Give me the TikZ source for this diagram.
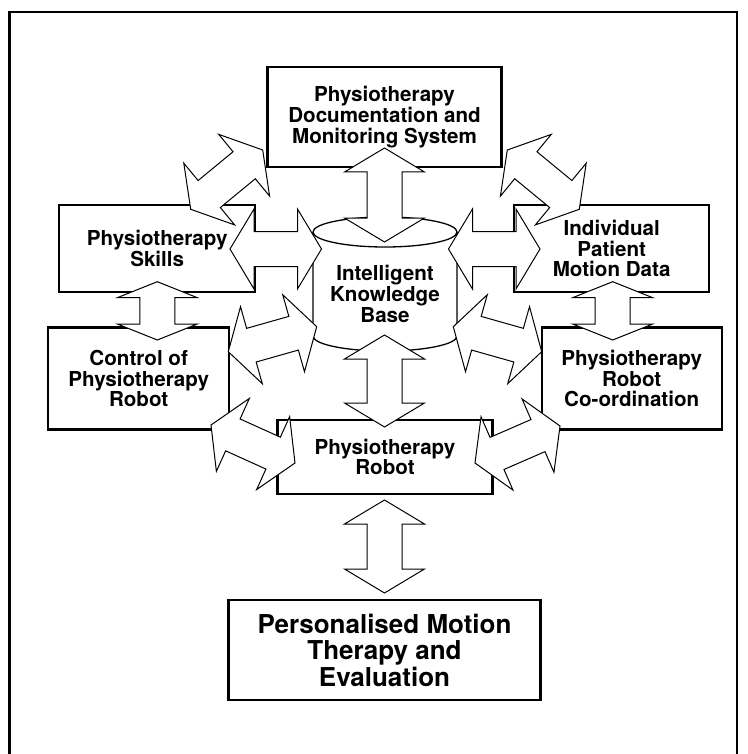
\documentclass[tikz,border=0pt]{standalone}
\usepackage{fontspec}
\setmainfont{TeX Gyre Heros}
\usetikzlibrary{calc}

% double block arrow between two points, optional head length
\newcommand{\blockarrow}[3][24]{%
    \draw[blockarr] (#2)
        -- ($(#2)!#1pt!(#3)!40pt!90:(#3)$)
        -- ($(#2)!#1pt!(#3)!17.5pt!90:(#3)$)
        -- ($(#3)!#1pt!(#2)!17.5pt!-90:(#2)$)
        -- ($(#3)!#1pt!(#2)!40pt!-90:(#2)$)
        -- (#3)
        -- ($(#3)!#1pt!(#2)!40pt!90:(#2)$)
        -- ($(#3)!#1pt!(#2)!17.5pt!90:(#2)$)
        -- ($(#2)!#1pt!(#3)!17.5pt!-90:(#3)$)
        -- ($(#2)!#1pt!(#3)!40pt!-90:(#3)$)
        -- cycle;}

\begin{document}
\begin{tikzpicture}[x=1pt, y=1pt]
        \tikzstyle{box}=[draw, line width=2.4pt, align=center, inner sep=0pt, font={\fontsize{20.6}{20.8}\selectfont\bfseries}]
        \tikzstyle{bigbox}=[box, font={\fontsize{26}{26.5}\selectfont\bfseries}]
        \tikzstyle{blockarr}=[draw, fill=white, line width=1pt]

        \useasboundingbox (0,0) rectangle (747,-754);
        \fill[white] (0,0) rectangle (747,-754);
        \draw[line width=2.6pt] (9.7,-770) -- (9.7,-12) -- (737,-12) -- (737,-770);

        \node (doc)    [box, minimum width=234, minimum height=100] at (384.5,-117) {Physiotherapy\\Documentation and\\Monitoring System};
        \node (skills) [box, minimum width=196, minimum height=87] at (157.2,-248.5) {Physiotherapy\\Skills};
        \node (motion) [box, minimum width=195, minimum height=87] at (611.7,-248.5) {Individual\\Patient\\Motion Data};
        \node (control) [box, minimum width=181, minimum height=102] at (138.7,-378.6) {Control of\\Physiotherapy\\Robot};
        \node (coord)  [box, minimum width=180, minimum height=102] at (631.7,-378.6) {Physiotherapy\\Robot\\Co-ordination};
        \node (robot)  [box, minimum width=215, minimum height=74] at (385,-457) {Physiotherapy\\Robot};
        \node (eval)   [bigbox, minimum width=312, minimum height=100] at (384.5,-650) {Personalised Motion\\Therapy and\\Evaluation};

        \draw[line width=1.3pt, fill=white] (313,-232) -- (313,-336) arc[start angle=180, end angle=360, x radius=72, y radius=15] -- (457,-232);
        \draw[line width=1.3pt] (385,-232) ellipse [x radius=72, y radius=15];

        \coordinate (docS)   at (384.5,-148);
        \coordinate (kbN)    at (384.5,-242);
        \coordinate (kbS)    at (384.5,-335);
        \coordinate (robotN) at (384.5,-427);
        \coordinate (robotS) at (384.5,-500);
        \coordinate (evalN)  at (384.5,-593);
        \coordinate (skillsS) at (157.3,-281.7);
        \coordinate (controlN) at (157.3,-340);
        \coordinate (motionS) at (612.7,-281.7);
        \coordinate (coordN) at (612.7,-340);
        \coordinate (skillsE) at (230,-249);
        \coordinate (kbW)    at (321.5,-249);
        \coordinate (kbE)    at (448.5,-249);
        \coordinate (motionW) at (540,-249);
        \coordinate (skillsN) at (190.7,-209.3);
        \coordinate (docW)   at (262.7,-150);
        \coordinate (motionN) at (579.3,-209.3);
        \coordinate (docE)   at (507.3,-150);
        \coordinate (controlE) at (228.3,-351.7);
        \coordinate (kbSW)   at (316.7,-326.7);
        \coordinate (coordW) at (541.7,-351.7);
        \coordinate (kbSE)   at (453.3,-326.7);
        \coordinate (controlSE) at (211,-425);
        \coordinate (robotW) at (295,-463);
        \coordinate (coordSW) at (560,-426);
        \coordinate (robotE) at (475,-463);

        \blockarrow{docS}{kbN}
        \blockarrow{kbS}{robotN}
        \blockarrow{robotS}{evalN}
        \blockarrow[16]{skillsS}{controlN}
        \blockarrow[16]{motionS}{coordN}
        \blockarrow{skillsE}{kbW}
        \blockarrow{kbE}{motionW}
        \blockarrow{skillsN}{docW}
        \blockarrow{motionN}{docE}
        \blockarrow{controlE}{kbSW}
        \blockarrow{coordW}{kbSE}
        \blockarrow{controlSE}{robotW}
        \blockarrow{coordSW}{robotE}

        \node (kb) [align=center, font={\fontsize{20.6}{20.8}\selectfont\bfseries}] at (385,-293.7) {Intelligent\\Knowledge\\Base};

    \end{tikzpicture}
\end{document}
